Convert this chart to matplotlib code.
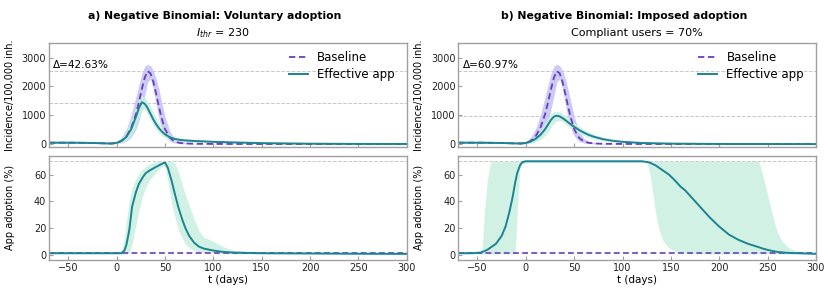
import numpy as np
import matplotlib
matplotlib.use('Agg')
import matplotlib.pyplot as plt

# ---- incidence (per 100,000 inh.), shared time grid ----
t_inc = [-70, -60, -50, -40, -30, -20, -10, -5, 0, 5, 10, 15, 20, 23, 26, 29, 32, 35,
         38, 41, 44, 47, 50, 55, 60, 65, 70, 80, 90, 100, 120, 150, 200, 250, 300]

base_inc = [50, 50, 50, 47, 42, 35, 25, 22, 45, 110, 260, 560, 1050, 1450, 1900, 2300, 2530, 2450,
            2150, 1720, 1250, 850, 520, 220, 90, 45, 25, 12, 9, 7, 5, 4, 3, 2, 2]
base_inc_hi = [65, 65, 65, 62, 58, 50, 45, 45, 90, 230, 520, 1000, 1650, 2050, 2450, 2700, 2760, 2720,
               2560, 2250, 1850, 1400, 950, 450, 200, 100, 55, 25, 15, 12, 9, 7, 5, 4, 4]
base_inc_lo = [35, 35, 35, 32, 28, 20, 12, 8, 15, 40, 100, 230, 520, 800, 1200, 1650, 2150, 2250,
               1900, 1350, 850, 500, 280, 100, 40, 18, 10, 5, 3, 2, 1, 1, 1, 1, 1]

# a) voluntary adoption
app_inc_a = [50, 50, 50, 48, 42, 35, 25, 22, 45, 110, 250, 520, 950, 1250, 1450, 1400, 1250, 1050,
             850, 680, 540, 430, 340, 240, 180, 150, 130, 110, 95, 80, 60, 35, 15, 8, 5]
app_inc_a_hi = [65, 65, 65, 62, 58, 50, 42, 40, 80, 200, 450, 850, 1350, 1600, 1680, 1620, 1480, 1300,
                1100, 900, 720, 580, 460, 330, 250, 210, 190, 160, 140, 120, 90, 55, 25, 14, 10]
app_inc_a_lo = [35, 35, 35, 32, 28, 20, 12, 10, 20, 50, 120, 280, 600, 900, 1150, 1200, 1050, 850,
                650, 500, 380, 290, 220, 150, 110, 90, 80, 65, 55, 45, 30, 18, 6, 3, 2]

# b) imposed adoption
app_inc_b = [50, 50, 50, 47, 42, 35, 25, 22, 40, 90, 180, 320, 520, 680, 840, 950, 985, 960,
             900, 830, 750, 670, 600, 490, 400, 320, 260, 170, 115, 80, 40, 18, 6, 3, 2]
app_inc_b_hi = [65, 65, 65, 62, 58, 50, 42, 40, 70, 160, 300, 500, 750, 920, 1060, 1130, 1150, 1120,
                1060, 980, 900, 820, 740, 620, 510, 420, 340, 230, 160, 115, 65, 30, 12, 6, 4]
app_inc_b_lo = [35, 35, 35, 32, 28, 20, 12, 8, 15, 40, 80, 160, 300, 420, 580, 720, 800, 820,
                780, 700, 620, 540, 470, 370, 290, 230, 180, 115, 75, 50, 22, 10, 3, 1, 1]

peak_base = 2530
peak_app_a = 1440
peak_app_b = 990
delta_a = "Δ=42.63%"
delta_b = "Δ=60.97%"

# ---- app adoption (%) ----
t_ad_a = [-70, -30, 0, 5, 8, 10, 13, 16, 20, 23, 27, 30, 34, 40, 44, 48, 50, 53, 57, 60, 64, 68,
          71, 75, 80, 85, 90, 100, 110, 120, 150, 200, 250, 300]
adopt_a = [1, 1, 1, 1, 3, 7, 18, 36, 47, 53, 58, 61, 63, 65.5, 67, 68.5, 69, 65, 55, 46, 35, 26,
           20, 14, 9, 6, 4.5, 3, 2, 1.5, 1, 0.8, 0.6, 0.5]
adopt_a_hi = [1.5, 1.5, 1.5, 3, 12, 25, 40, 50, 57, 61, 64, 66, 68, 69.5, 70, 70, 70, 70, 70, 69, 62, 52,
              45, 37, 27, 18, 13, 10, 6, 3, 1.5, 1.2, 1, 1]
adopt_a_lo = [0.5, 0.5, 0.5, 0.5, 0.5, 0.5, 1, 8, 22, 33, 44, 50, 56, 61, 64, 67, 66, 55, 38, 29, 18, 12,
              8, 5, 3, 2, 1.5, 1, 0.8, 0.6, 0.5, 0.5, 0.4, 0.3]

t_ad_b = [-70, -55, -47, -45, -43, -40, -37, -35, -31, -25, -21, -17, -14, -11, -9, -6, -4, -2, 0,
          120, 125, 128, 131, 134, 138, 142, 148, 155, 160, 165, 170, 180, 190, 200, 210, 220, 230,
          241, 245, 250, 255, 260, 265, 272, 282, 290, 300]
adopt_b = [1, 1, 1.5, 2, 2.5, 3.5, 5, 6, 8, 14, 21, 32, 42, 54, 61, 67, 69, 69.7, 70,
           70, 69.5, 69, 68, 67, 65, 63, 60, 55, 51, 48, 44, 36, 28, 21, 15, 11, 8,
           5.5, 4.5, 3.5, 2.7, 2, 1.6, 1.2, 1, 0.8, 0.5]
adopt_b_hi = [1.5, 1.5, 1.5, 6, 30, 55, 68, 70, 70, 70, 70, 70, 70, 70, 70, 70, 70, 70, 70,
              70, 70, 70, 70, 70, 70, 70, 70, 70, 70, 70, 70, 70, 70, 70, 70, 70, 70,
              70, 60, 45, 30, 17, 10, 5, 2, 1.5, 1]
adopt_b_lo = [0.5, 0.5, 0.5, 0.5, 0.5, 0.5, 0.5, 0.5, 0.5, 0.5, 0.5, 0.5, 0.5, 0.5, 30, 66, 68, 68.5, 69,
              69, 69, 62, 48, 32, 18, 10, 5, 2, 1.5, 1, 0.8, 0.6, 0.5, 0.5, 0.5, 0.5, 0.5,
              0.5, 0.5, 0.5, 0.5, 0.5, 0.5, 0.5, 0.5, 0.5, 0.5]

base_adopt = 1.0
max_adopt = 70

purple = '#6a3dbf'
purple_band = '#c6c6f4'
teal = '#1c8490'
teal_band = '#c9efe1'
grid_col = '#c8c8c8'
spine_col = '#a0a0a0'

fig = plt.figure(figsize=(8.3, 2.97), dpi=100)

lefts = [0.059, 0.552]
width = 0.431
titles = ["a) Negative Binomial: Voluntary adoption", "b) Negative Binomial: Imposed adoption"]
title_x = [0.259, 0.752]
subtitles = [r"$I_{thr}$ = 230", "Compliant users = 70%"]
sub_x = [0.269, 0.767]
app_inc = [(app_inc_a, app_inc_a_lo, app_inc_a_hi), (app_inc_b, app_inc_b_lo, app_inc_b_hi)]
peaks = [peak_app_a, peak_app_b]
deltas = [delta_a, delta_b]
adopt = [(t_ad_a, adopt_a, adopt_a_lo, adopt_a_hi), (t_ad_b, adopt_b, adopt_b_lo, adopt_b_hi)]


def style(ax):
    for s in ax.spines.values():
        s.set_color(spine_col)
        s.set_linewidth(1.0)
    ax.tick_params(direction='in', length=3, width=0.8, color=spine_col, labelsize=7,
                   labelcolor='#222222', pad=2)
    ax.set_xlim(-70, 300)
    ax.set_xticks([-50, 0, 50, 100, 150, 200, 250, 300])


for i in range(2):
    top = fig.add_axes([lefts[i], 0.505, width, 0.350])
    bot = fig.add_axes([lefts[i], 0.125, width, 0.350])

    # incidence
    y, lo, hi = app_inc[i]
    top.fill_between(t_inc, base_inc_lo, base_inc_hi, color=purple_band, lw=0, alpha=0.9)
    top.fill_between(t_inc, lo, hi, color=teal_band, lw=0, alpha=0.85)
    top.axhline(peak_base, color=grid_col, ls='--', lw=0.7, zorder=0)
    top.axhline(peaks[i], color=grid_col, ls='--', lw=0.7, zorder=0)
    top.plot(t_inc, base_inc, color=purple, ls=(0, (3.5, 2)), lw=1.3, label='Baseline')
    top.plot(t_inc, y, color=teal, lw=1.4, label='Effective app')
    style(top)
    top.set_ylim(-100, 3500)
    top.set_yticks([0, 1000, 2000, 3000])
    top.set_xticklabels([])
    top.set_ylabel("Incidence/100,000 inh.", fontsize=7)
    top.yaxis.set_label_coords(-0.095, 0.5)
    top.text(0.012, 0.79, deltas[i], transform=top.transAxes, fontsize=7.6, va='center')
    top.legend(loc='upper right', frameon=False, fontsize=8.5, handlelength=1.6,
               borderaxespad=0.3, labelspacing=0.3, bbox_to_anchor=(0.99, 1.0))

    # adoption
    ta, ya, ya_lo, ya_hi = adopt[i]
    bot.fill_between(ta, ya_lo, ya_hi, color=teal_band, lw=0, alpha=0.85)
    bot.axhline(max_adopt, color=grid_col, ls='--', lw=0.7, zorder=0)
    bot.axhline(base_adopt, color=purple, ls=(0, (3.5, 2)), lw=1.2)
    bot.plot(ta, ya, color=teal, lw=1.4)
    style(bot)
    bot.set_ylim(-4, 74)
    bot.set_yticks([0, 20, 40, 60])
    bot.set_ylabel("App adoption (%)", fontsize=7)
    bot.yaxis.set_label_coords(-0.095, 0.5)
    bot.set_xlabel("t (days)", fontsize=7.5, labelpad=2)

    fig.text(title_x[i], 0.946, titles[i], ha='center', va='center', fontsize=7.8, fontweight='bold')
    fig.text(sub_x[i], 0.89, subtitles[i], ha='center', va='center', fontsize=8)

fig.savefig('out.png', dpi=100)
